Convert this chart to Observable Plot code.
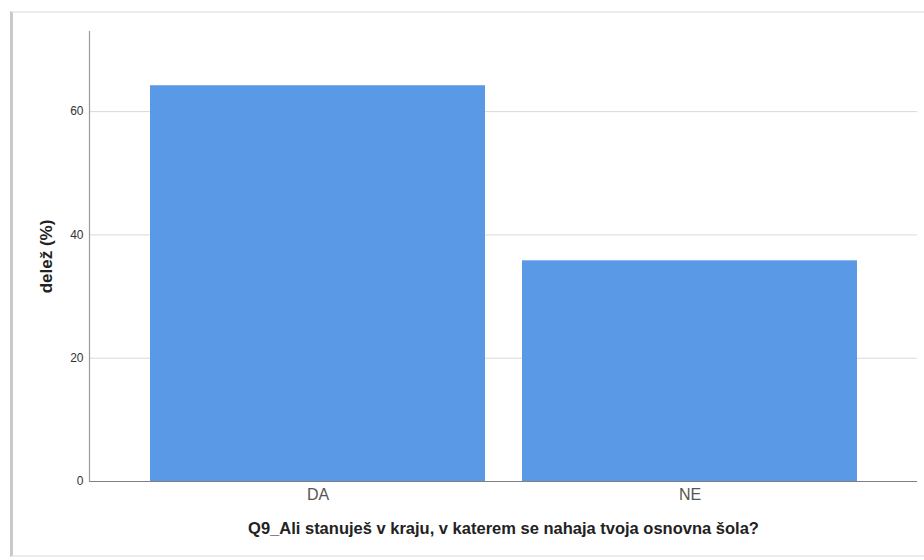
<!DOCTYPE html>
<html>
<head>
<meta charset="utf-8">
<script src="https://cdn.jsdelivr.net/npm/d3@7"></script>
<script src="https://cdn.jsdelivr.net/npm/@observablehq/plot@0.6"></script>
<style>
  html, body { margin: 0; padding: 0; background: #fff; }
  #wrap { position: relative; width: 924px; height: 560px; overflow: hidden; font-family: "Liberation Sans", Arial, sans-serif; }
  #frame { position: absolute; left: 10px; top: 11px; width: 920px; height: 546px;
           border-left: 3px solid #c9c9c9; border-top: 2px solid #ececec; border-bottom: 2px solid #ececec; box-sizing: border-box; }
  #chart { position: absolute; left: 0; top: 0; }
</style>
</head>
<body>
<div id="wrap"><div id="frame"></div><div id="chart"></div></div>
<script>
const categories = ["DA", "NE"];
const shares = [64.2, 35.8];
const yTicks = [0, 20, 40, 60];
const xTitle = "Q9_Ali stanuješ v kraju, v katerem se nahaja tvoja osnovna šola?";
const yTitle = "delež (%)";

const data = categories.map((c, i) => ({category: c, share: shares[i]}));

const chart = Plot.plot({
  width: 924,
  height: 560,
  marginLeft: 89,
  marginRight: 7,
  marginTop: 31,
  marginBottom: 79,
  style: {background: "transparent", fontFamily: "'Liberation Sans', Arial, sans-serif"},
  x: {domain: categories, paddingInner: 0.1, paddingOuter: 0.161, label: null},
  y: {domain: [0, 73], label: null},
  marks: [
    Plot.gridY(yTicks, {stroke: "#d9d9d9", strokeOpacity: 1}),
    Plot.barY(data, {x: "category", y: "share", fill: "#5a99e6"}),
    Plot.ruleY([0], {stroke: "#808080", strokeWidth: 1.2}),
    Plot.frame({anchor: "left", stroke: "#999", strokeWidth: 1.2}),
    Plot.axisY(yTicks, {tickSize: 0, tickPadding: 6, fontSize: 12, fill: "#333", label: null}),
    Plot.axisX({tickSize: 0, tickPadding: 7, fontSize: 16, fill: "#555", label: null}),
    Plot.text([yTitle], {frameAnchor: "left", textAnchor: "middle", dx: -43, rotate: -90, fontSize: 17, fontWeight: "bold", fill: "#222"}),
    Plot.text([xTitle], {frameAnchor: "bottom", dy: 52, fontSize: 16.5, fontWeight: "bold", fill: "#222"})
  ]
});
document.getElementById("chart").appendChild(chart);
</script>
</body>
</html>
